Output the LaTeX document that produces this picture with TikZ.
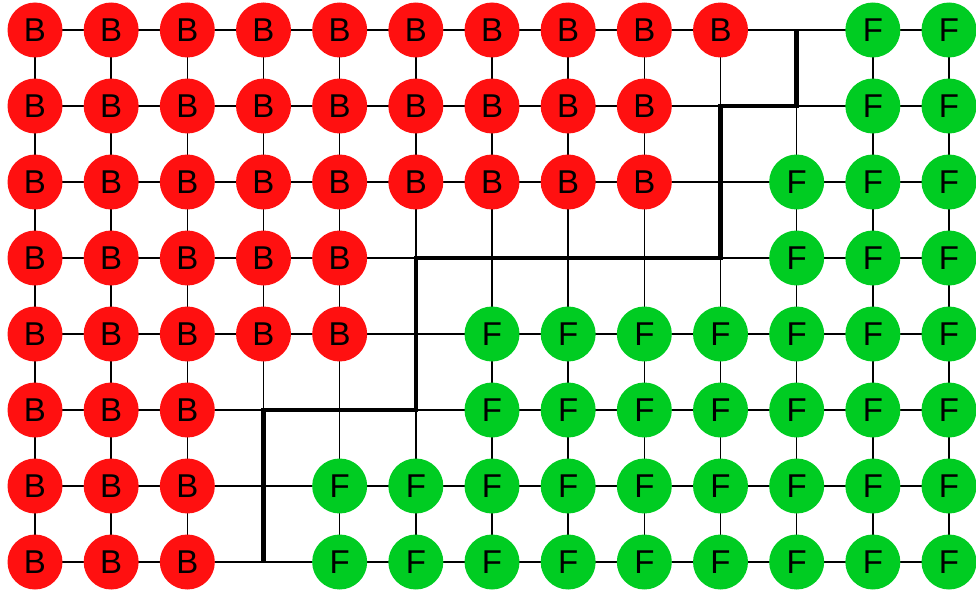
\documentclass[tikz,border=0pt]{standalone}
\usepackage{fontspec}
\setmainfont{Liberation Sans}
\definecolor{bred}{RGB}{255,16,16}
\definecolor{fgreen}{RGB}{0,204,34}
\tikzset{
  cell/.style={circle,minimum size=55pt,inner sep=0pt,font=\fontsize{33}{33}\selectfont},
  bnode/.style={cell,fill=bred},
  fnode/.style={cell,fill=fgreen},
  gridline/.style={line width=1.6pt,black},
  cutline/.style={line width=4.5pt,black,line join=miter}
}
\begin{document}
\begin{tikzpicture}[x=1pt,y=-1pt]
\useasboundingbox (0,0) rectangle (976,594);
% coordinates
\foreach \i in {0,...,12}{
  \foreach \j in {0,...,7}{
    \coordinate (c-\i-\j) at ({35+76.1667*\i},{30+76*\j});
  }
}
% grid lines
\foreach \j in {0,...,7}{\draw[gridline] (c-0-\j) -- (c-12-\j);}
\foreach \i in {0,...,12}{\draw[gridline] (c-\i-0) -- (c-\i-7);}
% cut
\draw[cutline] (c-10-0) -- (c-10-1) -- (c-9-1) -- (c-9-3) -- (c-5-3) -- (c-5-5) -- (c-3-5) -- (c-3-7);
% B nodes: row -> last column
\foreach \j/\last in {0/9,1/8,2/8,3/4,4/4,5/2,6/2,7/2}{
  \foreach \i in {0,...,\last}{
    \node[bnode] (b-\i-\j) at (c-\i-\j) {B};
  }
}
% F nodes: row -> first column
\foreach \j/\first in {0/11,1/11,2/10,3/10,4/6,5/6,6/4,7/4}{
  \foreach \i in {\first,...,12}{
    \node[fnode] (f-\i-\j) at (c-\i-\j) {F};
  }
}
\end{tikzpicture}
\end{document}
